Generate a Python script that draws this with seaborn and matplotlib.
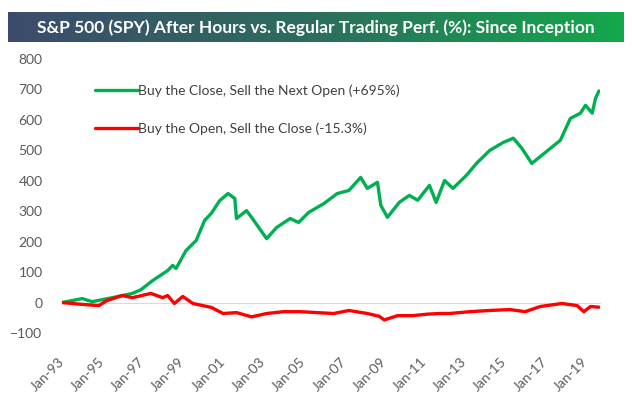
import numpy as np
import pandas as pd
import matplotlib
matplotlib.use("Agg")
import matplotlib.pyplot as plt
import matplotlib.dates as mdates
from matplotlib.colors import LinearSegmentedColormap
import seaborn as sns

# values (cumulative % return)
after_dates = ["1993-01", "1994-01", "1994-07", "1995-07", "1996-07", "1996-12",
               "1997-07", "1998-04", "1998-07", "1998-09", "1999-03", "1999-09",
               "2000-02", "2000-06", "2000-11", "2001-04", "2001-08", "2001-09",
               "2002-03", "2002-06", "2003-03", "2003-09", "2004-05", "2004-10",
               "2005-04", "2006-01", "2006-09", "2007-04", "2007-11", "2008-03",
               "2008-09", "2008-11", "2009-03", "2009-10", "2010-04", "2010-09",
               "2011-04", "2011-08", "2012-01", "2012-06", "2013-02", "2013-08",
               "2014-04", "2014-12", "2015-06", "2015-11", "2016-05", "2017-01",
               "2017-10", "2018-04", "2018-10", "2019-01", "2019-05", "2019-07",
               "2019-09"]
after_vals = [0, 13, 3, 16, 30, 42, 72, 105, 122, 112, 171, 204,
              270, 293, 335, 358, 342, 276, 302, 280, 210, 247, 276, 263,
              296, 325, 358, 368, 411, 375, 395, 319, 280, 329, 352, 336,
              385, 329, 401, 375, 418, 457, 500, 526, 540, 507, 457, 493,
              533, 605, 622, 648, 622, 671, 695]

regular_dates = ["1993-01", "1994-01", "1994-11", "1995-04", "1996-01", "1996-07",
                 "1997-06", "1998-01", "1998-04", "1998-08", "1999-01", "1999-07",
                 "2000-06", "2001-01", "2001-09", "2002-06", "2003-03", "2004-01",
                 "2004-11", "2005-09", "2006-07", "2007-04", "2008-03", "2008-10",
                 "2009-01", "2009-09", "2010-06", "2011-03", "2011-10", "2012-04",
                 "2013-04", "2014-04", "2015-04", "2016-01", "2016-10", "2017-11",
                 "2018-08", "2018-12", "2019-04", "2019-09"]
regular_vals = [0, -6, -10, 7, 23, 16, 30, 16, 23, -3, 20, -3,
                -16, -36, -33, -47, -36, -30, -30, -33, -36, -26, -36, -45,
                -57, -43, -43, -38, -36, -36, -30, -26, -23, -30, -13, -3,
                -10, -30, -13, -15.3]

tick_years = list(range(1993, 2020, 2))

lab_after = "Buy the Close, Sell the Next Open (+695%)"
lab_regular = "Buy the Open, Sell the Close (-15.3%)"
title = "S&P 500 (SPY) After Hours vs. Regular Trading Perf. (%): Since Inception"

df = pd.concat([
    pd.DataFrame({"date": pd.to_datetime(after_dates), "perf": after_vals, "series": lab_after}),
    pd.DataFrame({"date": pd.to_datetime(regular_dates), "perf": regular_vals, "series": lab_regular}),
])

sns.set_style("white")
plt.rcParams["font.family"] = ["Lato", "DejaVu Sans"]

fig = plt.figure(figsize=(6.32, 3.96), dpi=100)
ax = fig.add_axes([62 / 632, 63 / 396, 538 / 632, 274 / 396])

sns.lineplot(data=df, x="date", y="perf", hue="series", ax=ax,
             palette={lab_after: "#00b050", lab_regular: "#ff0000"},
             linewidth=2.4, estimator=None)

ax.set_xlim(pd.Timestamp("1993-01-01"), pd.Timestamp("2019-09-20"))
ax.set_ylim(-100, 800)
ax.set_yticks(np.arange(-100, 801, 100))
ax.set_xlabel("")
ax.set_ylabel("")

for s in ["top", "right", "left"]:
    ax.spines[s].set_visible(False)
ax.spines["bottom"].set_position(("data", 0))
ax.spines["bottom"].set_color("#d9d9d9")
ax.spines["bottom"].set_zorder(0)

ax.set_xticks([pd.Timestamp(f"{y}-01-01") for y in tick_years])
ax.xaxis.set_major_formatter(mdates.DateFormatter("%b-%y"))
ax.tick_params(axis="x", direction="out", length=4, color="#d9d9d9", width=1,
               pad=37, labelsize=10, labelcolor="#595959")
ax.tick_params(axis="y", length=0, pad=14, labelsize=10, labelcolor="#595959")
for lbl in ax.get_xticklabels():
    lbl.set_rotation(45)
    lbl.set_ha("right")
    lbl.set_va("center")
    lbl.set_rotation_mode("anchor")

leg = ax.legend(loc="upper left", bbox_to_anchor=(95 / 632, 1 - 84 / 396),
                bbox_transform=fig.transFigure, frameon=False, fontsize=10,
                handlelength=3.1, handletextpad=0.0, labelspacing=1.85,
                borderpad=0, borderaxespad=0)
for t in leg.get_texts():
    t.set_color("#404040")

# title banner with gradient
bax = fig.add_axes([8 / 632, 1 - 42 / 396, 616 / 632, 30 / 396])
cmap = LinearSegmentedColormap.from_list("banner", ["#3d4b6c", "#2c6e5d", "#14a84c"])
bax.imshow(np.linspace(0, 1, 256)[None, :], aspect="auto", cmap=cmap,
           extent=(0, 1, 0, 1))
bax.set_axis_off()
bax.text(0.5, 0.47, title, color="white", fontsize=12.5, fontweight="bold",
         ha="center", va="center", transform=bax.transAxes)

fig.savefig("out.png", dpi=100)
